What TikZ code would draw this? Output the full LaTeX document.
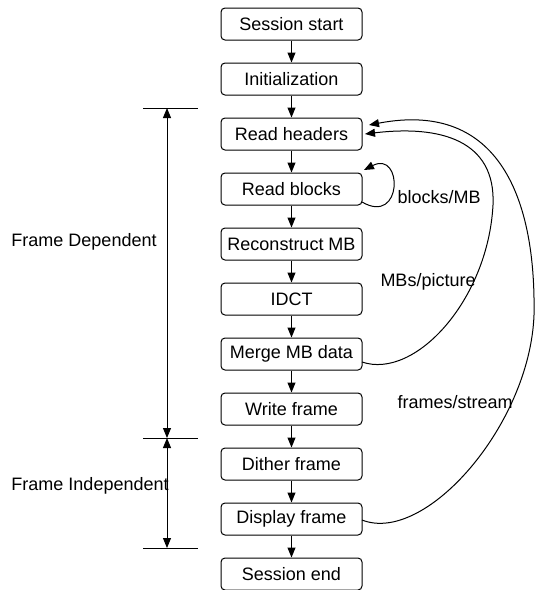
\documentclass[tikz,border=0pt]{standalone}
\usepackage{fontspec}
\setmainfont{Liberation Sans}
\usetikzlibrary{arrows.meta}
\begin{document}
\begin{tikzpicture}[x=1pt,y=-1pt,line width=1pt,
  font=\fontsize{18}{21}\selectfont,
  box/.style={draw, rounded corners=4pt, minimum width=141pt, minimum height=32pt, inner sep=0pt},
  arr/.style={-{Triangle[length=10pt,width=8pt]}},
  dim/.style={{Triangle[length=10pt,width=8pt]}-{Triangle[length=10pt,width=8pt]}},
  lbl/.style={anchor=west, inner sep=0pt}]
\useasboundingbox (0,0) rectangle (538,590);
\node[box] (ss) at (291.5,24) {Session start};
\node[box] (in) at (291.5,79) {Initialization};
\node[box] (rh) at (291.5,134) {Read headers};
\node[box] (rb) at (291.5,189) {Read blocks};
\node[box] (rc) at (291.5,244) {Reconstruct MB};
\node[box] (id) at (291.5,299) {IDCT};
\node[box] (mm) at (291.5,354) {Merge MB data};
\node[box] (wf) at (291.5,409) {Write frame};
\node[box] (df) at (291.5,464) {Dither frame};
\node[box] (dp) at (291.5,519) {Display frame};
\node[box] (se) at (291.5,574) {Session end};
\foreach \a/\b in {ss/in,in/rh,rh/rb,rb/rc,rc/id,id/mm,mm/wf,wf/df,df/dp,dp/se}
  \draw[arr] (\a.south) -- (\b.north);
% self loop
\coordinate (l0) at (362,202);
\coordinate (l1) at (364,170);
\draw[arr] (l0) .. controls (403,226) and (403,150) .. (l1);
% MBs/picture loop
\coordinate (m0) at (362,362);
\coordinate (m1) at (493,205);
\coordinate (m2) at (365,134);
\draw[arr] (m0) .. controls (415,380) and (488,300) .. (m1) .. controls (496,140) and (440,125) .. (m2);
% frames/stream loop
\coordinate (f0) at (362,520);
\coordinate (f1) at (534,315);
\coordinate (f2) at (369,125);
\draw[arr] (f0) .. controls (425,545) and (530,425) .. (f1) .. controls (536,200) and (500,100) .. (f2);
% labels
\node[lbl] (t1) at (397,197) {blocks/MB};
\node[lbl] (t2) at (380,282) {MBs/picture};
\node[lbl] (t3) at (397,402) {frames/stream};
% dimension lines
\coordinate (d1) at (167,108);
\coordinate (d2) at (167,438);
\coordinate (d3) at (167,548);
\draw (143,108) -- (198,108);
\draw (143,438) -- (198,438);
\draw (143,548) -- (198,548);
\draw[dim] (d1) -- (d2);
\draw[dim] (d2) -- (d3);
\node[lbl] (fd) at (11,242) {Frame Dependent};
\node[lbl] (fi) at (11,486) {Frame Independent};
\end{tikzpicture}
\end{document}
